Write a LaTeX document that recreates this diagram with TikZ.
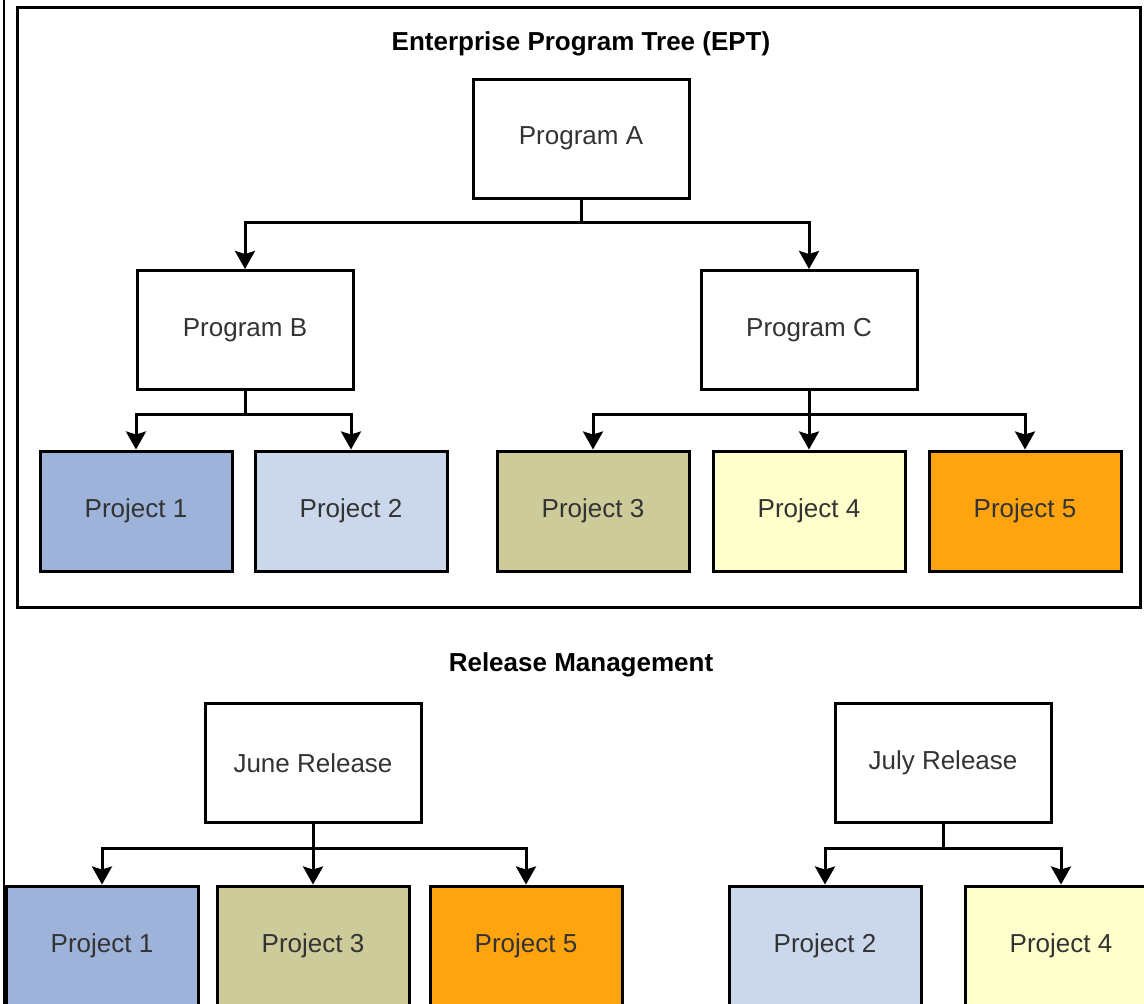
\documentclass[tikz,border=0pt]{standalone}
\usepackage{fontspec}
\setmainfont{Liberation Sans}
\usepackage{tikz}
\usetikzlibrary{positioning,arrows.meta}
\usepackage{xcolor}

\definecolor{projblue}{HTML}{9EB3DA}
\definecolor{projsky}{HTML}{CBD8EB}
\definecolor{projkhaki}{HTML}{CCCB99}
\definecolor{projcream}{HTML}{FFFFCC}
\definecolor{projorange}{HTML}{FFA40E}
\definecolor{txtgray}{HTML}{333333}

\tikzset{
  prog/.style={draw=black,line width=3pt,fill=white,minimum width=216pt,minimum height=119pt,
    text=txtgray,font=\fontsize{26}{30}\selectfont},
  proj/.style={prog,minimum width=192pt,minimum height=120pt},
  head/.style={font=\fontsize{26}{30}\selectfont\bfseries},
  link/.style={line width=3pt},
}

\begin{document}
\begin{tikzpicture}[x=1pt,y=-1pt,>={Stealth[length=18pt,width=20pt,inset=3pt]}]
\clip (0,0) rectangle (1144,1004);
\draw[line width=1.5pt] (4,0) -- (4,1004);
\draw[line width=3pt] (17,7) rectangle (1140,607);
% enterprise program tree
\node[head] (ept) at (581,44) {Enterprise Program Tree (EPT)};
\node[prog] (pa) at (581,138.5) {Program A};
\node[prog] (pb) at (245,330) {Program B};
\node[prog] (pc) at (809,330) {Program C};
\node[proj,fill=projblue] (p1) at (136,511) {Project 1};
\node[proj,fill=projsky] (p2) at (351,511) {Project 2};
\node[proj,fill=projkhaki] (p3) at (593,511) {Project 3};
\node[proj,fill=projcream] (p4) at (809,511) {Project 4};
\node[proj,fill=projorange] (p5) at (1025,511) {Project 5};
\coordinate (ja) at (581,222);
\coordinate (jb) at (245,414);
\coordinate (jc) at (809,414);
\draw[link] (pa) -- (ja);
\draw[link,->] (ja) -| (pb);
\draw[link,->] (ja) -| (pc);
\draw[link] (pb) -- (jb);
\draw[link,->] (jb) -| (p1);
\draw[link,->] (jb) -| (p2);
\draw[link] (pc) -- (jc);
\draw[link,->] (jc) -| (p3);
\draw[link,->] (jc) -- (p4);
\draw[link,->] (jc) -| (p5);
% release management
\node[head] (rm) at (581,665) {Release Management};
\node[prog] (june) at (313,763) {June Release};
\node[prog] (july) at (943,763) {July Release};
\node[proj,fill=projblue] (r1) at (102,946) {Project 1};
\node[proj,fill=projkhaki] (r3) at (313,946) {Project 3};
\node[proj,fill=projorange] (r5) at (526,946) {Project 5};
\node[proj,fill=projsky] (r2) at (825,946) {Project 2};
\node[proj,fill=projcream] (r4) at (1061,946) {Project 4};
\coordinate (jj) at (313,848);
\coordinate (jl) at (943,848);
\draw[link] (june) -- (jj);
\draw[link,->] (jj) -| (r1);
\draw[link,->] (jj) -- (r3);
\draw[link,->] (jj) -| (r5);
\draw[link] (july) -- (jl);
\draw[link,->] (jl) -| (r2);
\draw[link,->] (jl) -| (r4);
\end{tikzpicture}
\end{document}
